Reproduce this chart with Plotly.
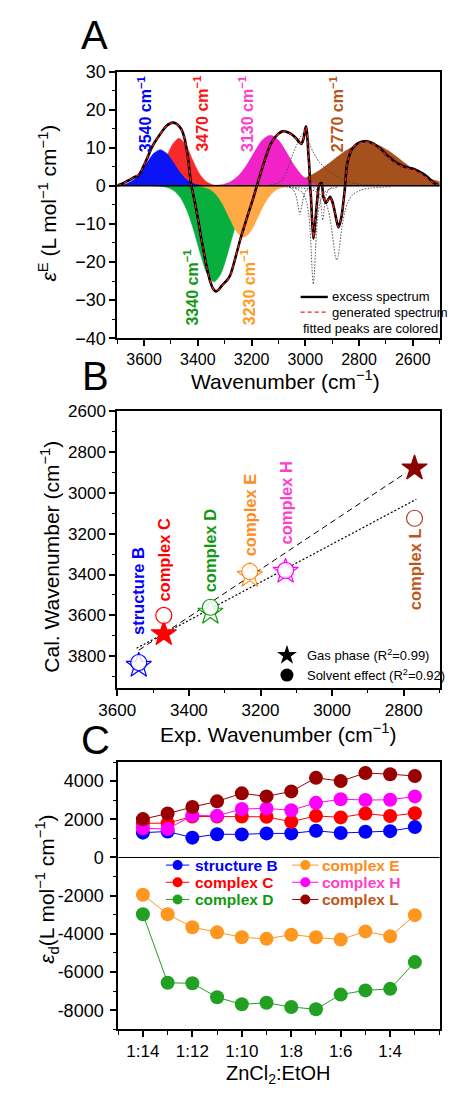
import plotly.graph_objects as go

FIG_W, FIG_H = 451, 1095
FONT = "Liberation Sans, Arial, sans-serif"


def xp(px):
    return px / FIG_W


def yp(py):
    return 1 - py / FIG_H


# ---------------- Panel A: excess spectrum (cm^-1, L mol^-1 cm^-1) ----------------
band_3540_wn = [3715, 3690, 3665, 3640, 3615, 3590, 3565, 3540, 3515, 3490, 3465, 3440, 3415, 3390, 3365]
band_3540_val = [0.03, 0.15, 0.53, 1.50, 3.36, 5.98, 8.47, 9.5, 8.47, 5.98, 3.36, 1.50, 0.53, 0.15, 0.03]

band_3470_wn = [3620, 3595, 3570, 3545, 3520, 3495, 3470, 3445, 3420, 3395, 3370, 3345, 3320]
band_3470_val = [0.06, 0.31, 1.18, 3.31, 6.92, 10.8, 12.5, 10.8, 6.92, 3.31, 1.18, 0.31, 0.06]

band_3130_wn = [3340, 3310, 3280, 3250, 3220, 3190, 3160, 3130, 3100, 3070, 3040, 3010, 2980, 2950, 2920]
band_3130_val = [0.08, 0.32, 1.01, 2.55, 5.25, 8.80, 12.0, 13.3, 12.0, 8.80, 5.25, 2.55, 1.01, 0.32, 0.08]

band_2770_wn = [3210, 3170, 3130, 3090, 3050, 3010, 2970, 2930, 2890, 2850, 2810, 2770,
                2730, 2690, 2650, 2610, 2570, 2530, 2490]
band_2770_val = [0.02, 0.06, 0.17, 0.40, 0.88, 1.74, 3.08, 4.92, 7.08, 9.18, 10.73, 11.3,
                 10.73, 9.18, 7.08, 4.92, 3.08, 1.74, 0.88]

band_3340_wn = [3565, 3540, 3515, 3490, 3465, 3440, 3415, 3390, 3365, 3340, 3315, 3290,
                3265, 3240, 3215, 3190, 3165, 3140, 3115]
band_3340_val = [-0.03, -0.12, -0.41, -1.23, -3.08, -6.57, -11.8, -18.0, -23.2, -25.2, -23.2, -18.0,
                 -11.8, -6.57, -3.08, -1.23, -0.41, -0.12, -0.03]

band_3230_wn = [3405, 3380, 3355, 3330, 3305, 3280, 3255, 3230, 3205, 3180, 3155, 3130, 3105, 3080, 3055]
band_3230_val = [-0.07, -0.29, -0.93, -2.43, -5.14, -8.79, -12.1, -13.5, -12.1, -8.79, -5.14, -2.43, -0.93, -0.29, -0.07]

# uncoloured narrow components of the fit
comp_p1_wn = [3130, 3110, 3090, 3075, 3060, 3045, 3030, 3018, 3005, 2992, 2979, 2962, 2945,
              2925, 2905, 2880, 2850, 2820, 2780, 2740, 2700, 2640, 2580, 2500]
comp_p1_val = [0.2, 0.5, 1.2, 2.8, 5.6, 8.6, 11.0, 12.8, 14.0, 12.6, 10.1, 7.8, 6.0,
               4.6, 3.5, 2.4, 1.3, 0.7, 0.3, 0.18, 0.1, 0.05, 0.03, 0.02]
comp_n1_wn = [3060, 3045, 3035, 3028, 3020, 3012, 3005, 2995, 2980]
comp_n1_val = [-0.3, -1.0, -2.5, -4.8, -7.5, -4.8, -2.5, -1.0, -0.3]
comp_n2_wn = [3060, 3030, 3010, 2995, 2987, 2982, 2978, 2974, 2970, 2966, 2962, 2958, 2953,
              2945, 2930, 2910, 2880]
comp_n2_val = [-0.38, -0.84, -1.8, -4.2, -7.6, -11.8, -16.9, -22.8, -25.8, -22.8, -16.9, -11.8, -7.6,
               -4.2, -1.8, -0.84, -0.38]
comp_n3_wn = [2970, 2955, 2948, 2943, 2939, 2935, 2931, 2927, 2922, 2915, 2900]
comp_n3_val = [-0.42, -1.2, -2.3, -4.25, -7.0, -9.0, -7.0, -4.25, -2.3, -1.2, -0.42]
comp_n4_wn = [3083, 3013, 2973, 2943, 2923, 2913, 2903, 2898, 2893, 2888, 2883, 2878, 2873,
              2868, 2863, 2853, 2843, 2823, 2793, 2753, 2683]
comp_n4_val = [-0.23, -0.54, -1.1, -2.3, -4.5, -6.8, -10.7, -13.3, -16.2, -18.5, -19.5, -18.5, -16.2,
               -13.3, -10.7, -6.8, -4.5, -2.3, -1.1, -0.54, -0.23]

excess_wn = [3700, 3680, 3667, 3650, 3638, 3621, 3610, 3598, 3585, 3574, 3560, 3545, 3530, 3517,
             3505, 3493, 3482, 3470, 3460, 3452, 3446, 3441, 3435, 3430, 3424, 3415, 3406, 3397,
             3389, 3380, 3371, 3362, 3354, 3343, 3333, 3323, 3313, 3300, 3290, 3279, 3270, 3261,
             3250, 3238, 3226, 3215, 3203, 3192, 3183, 3174, 3162, 3151, 3140, 3130, 3116, 3100,
             3084, 3070, 3055, 3043, 3032, 3022, 3014, 3006, 3000, 2997, 2993, 2989, 2985, 2982,
             2979, 2975, 2970, 2966, 2962, 2956, 2950, 2944, 2939, 2933, 2927, 2922, 2915, 2908,
             2900, 2892, 2884, 2877, 2870, 2863, 2857, 2852, 2846, 2838, 2829, 2816, 2803, 2787,
             2771, 2753, 2736, 2718, 2701, 2683, 2666, 2648, 2631, 2614, 2597, 2580, 2562, 2545,
             2527, 2515, 2504]
excess_val = [0.0, 0.6, 1.1, 1.7, 2.2, 2.8, 4.0, 5.8, 7.8, 9.7, 11.5, 13.1, 14.6, 15.7,
              16.3, 16.6, 16.4, 15.7, 14.7, 13.1, 11.4, 9.3, 6.4, 3.2, 0.0, -3.0, -6.2, -9.7,
              -13.1, -16.5, -19.9, -22.9, -25.1, -27.0, -27.7, -27.3, -26.4, -25.4, -24.7, -23.4, -21.4, -19.1,
              -16.2, -13.1, -10.4, -7.9, -5.3, -2.8, -0.6, 1.5, 4.3, 6.7, 9.0, 10.8, 12.4, 13.7,
              14.3, 14.2, 13.7, 13.1, 12.3, 11.4, 11.0, 12.5, 15.0, 15.6, 13.5, 9.0, 5.0, -0.2,
              -2.8, -8.5, -13.8, -12.0, -8.8, -4.0, -0.2, 0.6, 0.7, -2.8, -4.0, -4.5, -3.6, -2.9,
              -4.0, -6.2, -9.0, -10.9, -9.6, -7.1, -3.5, -0.2, 5.0, 7.5, 9.3, 10.5, 11.2, 11.6,
              11.7, 11.3, 10.6, 9.6, 8.4, 7.3, 6.3, 5.6, 5.0, 4.7, 4.5, 3.9, 3.2, 2.3,
              1.1, 0.5, 0.1]
generated_val = [0.0, 0.6, 1.1, 1.7, 2.3, 2.9, 4.1, 5.9, 7.9, 9.7, 11.5, 13.1, 14.6, 15.7,
                 16.3, 16.5, 16.3, 15.6, 14.6, 13.1, 11.4, 9.3, 6.4, 3.2, 0.0, -3.0, -6.2, -9.7,
                 -13.1, -16.5, -19.9, -22.9, -25.1, -27.0, -27.6, -27.3, -26.5, -25.5, -24.8, -23.5, -21.5, -19.1,
                 -16.2, -13.1, -10.4, -7.9, -5.3, -2.8, -0.6, 1.5, 4.3, 6.7, 9.0, 10.8, 12.4, 13.6,
                 14.2, 14.1, 13.6, 13.0, 12.2, 11.4, 11.0, 12.5, 15.0, 15.5, 13.5, 9.0, 5.0, -0.2,
                 -2.8, -8.5, -13.6, -12.0, -8.8, -4.0, -0.2, 0.6, 0.7, -2.8, -4.0, -4.5, -3.6, -2.9,
                 -4.0, -6.2, -9.0, -10.8, -9.6, -7.1, -3.5, -0.2, 5.0, 7.5, 9.3, 10.5, 11.1, 11.5,
                 11.6, 11.2, 10.5, 9.5, 8.3, 7.1, 6.1, 5.4, 4.8, 4.5, 4.2, 3.6, 2.9, 2.0,
                 1.0, 0.5, 0.1]

# ---------------- Panel B: calculated vs experimental wavenumbers ----------------
species = ["structure B", "complex C", "complex D", "complex E", "complex H", "complex L"]
exp_wn = [3540, 3470, 3340, 3230, 3130, 2770]
cal_gas = [3845, 3690, 3585, 3405, 3385, 2880]
cal_solvent = [3830, 3600, 3560, 3385, 3380, 3125]
gas_fit_wn = [3540, 2795]
gas_fit_cal = [3770, 2904]
solvent_fit_wn = [3546, 2765]
solvent_fit_cal = [3760, 3032]

# ---------------- Panel C: epsilon_d vs ZnCl2:EtOH ratio ----------------
ratios = ["1:14", "1:13", "1:12", "1:11", "1:10", "1:9", "1:8", "1:7", "1:6", "1:5", "1:4", "1:3"]
eps_struct_B = [1300, 1360, 1040, 1220, 1210, 1260, 1260, 1400, 1280, 1350, 1380, 1590]
eps_complex_C = [1790, 1800, 2150, 2150, 2150, 2130, 1870, 2180, 2100, 2300, 2170, 2320]
eps_complex_D = [-2970, -6560, -6590, -7320, -7690, -7610, -7830, -7950, -7180, -6960, -6880, -5480]
eps_complex_E = [-1950, -2970, -3650, -3920, -4180, -4260, -4040, -4180, -4300, -3870, -4130, -3020]
eps_complex_H = [1530, 1490, 2200, 2180, 2540, 2570, 2470, 2860, 3050, 3010, 3020, 3200]
eps_complex_L = [2010, 2300, 2640, 2940, 3360, 3200, 3460, 4170, 4000, 4425, 4360, 4270]
eps_ticks = [-8000, -6000, -4000, -2000, 0, 2000, 4000]

# ---------------- styling ----------------
BAND_FILLS = [
    (band_2770_wn, band_2770_val, "#A4511D"),
    (band_3130_wn, band_3130_val, "#F022C8"),
    (band_3470_wn, band_3470_val, "#F62A2A"),
    (band_3540_wn, band_3540_val, "#0A14F5"),
    (band_3340_wn, band_3340_val, "#08AE3E"),
    (band_3230_wn, band_3230_val, "#FFAA44"),
]
COMPONENTS = [
    (comp_p1_wn, comp_p1_val), (comp_n1_wn, comp_n1_val), (comp_n2_wn, comp_n2_val),
    (comp_n3_wn, comp_n3_val), (comp_n4_wn, comp_n4_val),
]
B_MARK = ["#0000FF", "#FF0000", "#119911", "#FF8C1A", "#FF00FF", "#8B0000"]
B_CIRCLE = ["#0000FF", "#FF0000", "#119911", "#FF8C1A", "#FF00FF", "#B0402A"]
B_STAR_FILL = ["white", "#FF0000", "white", "white", "white", "#8B0000"]
B_TEXT = ["#0000FF", "#FF0000", "#119911", "#FF8C1A", "#FF3ECC", "#C0561A"]
C_SERIES = [
    ("structure B", eps_struct_B, "#0000FF", "#0000FF"),
    ("complex C", eps_complex_C, "#FF0000", "#FF0000"),
    ("complex D", eps_complex_D, "#22A022", "#119911"),
    ("complex E", eps_complex_E, "#FF9620", "#FF8C1A"),
    ("complex H", eps_complex_H, "#FF00FF", "#FF3ECC"),
    ("complex L", eps_complex_L, "#990000", "#C0561A"),
]

fig = go.Figure()

# Panel A traces
for wn, val, col in BAND_FILLS:
    fig.add_trace(go.Scatter(x=wn, y=val, mode="lines", fill="tozeroy", fillcolor=col,
                             line=dict(color=col, width=0.5, shape="spline", smoothing=0.8),
                             xaxis="x", yaxis="y", showlegend=False, hoverinfo="skip"))
for wn, val in COMPONENTS:
    fig.add_trace(go.Scatter(x=wn, y=val, mode="lines",
                             line=dict(color="#444444", width=0.9, dash="1.5px,1.5px", shape="spline", smoothing=0.6),
                             xaxis="x", yaxis="y", showlegend=False, hoverinfo="skip"))
fig.add_trace(go.Scatter(x=excess_wn, y=excess_val, mode="lines", name="excess spectrum",
                         line=dict(color="black", width=2.6, shape="spline", smoothing=0.6),
                         xaxis="x", yaxis="y", showlegend=False))
fig.add_trace(go.Scatter(x=excess_wn, y=generated_val, mode="lines", name="generated spectrum",
                         line=dict(color="#FF1A1A", width=1.2, dash="4px,3px", shape="spline", smoothing=0.6),
                         xaxis="x", yaxis="y", showlegend=False))

# Panel B traces
fig.add_trace(go.Scatter(x=gas_fit_wn, y=gas_fit_cal, mode="lines",
                         line=dict(color="black", width=1, dash="6px,4px"),
                         xaxis="x2", yaxis="y2", showlegend=False, hoverinfo="skip"))
fig.add_trace(go.Scatter(x=solvent_fit_wn, y=solvent_fit_cal, mode="lines",
                         line=dict(color="black", width=1.2, dash="2px,2px"),
                         xaxis="x2", yaxis="y2", showlegend=False, hoverinfo="skip"))
fig.add_trace(go.Scatter(x=exp_wn, y=cal_gas, mode="markers", text=species,
                         marker=dict(symbol="star", size=19, color=B_STAR_FILL,
                                     line=dict(color=B_MARK, width=1.2)),
                         xaxis="x2", yaxis="y2", showlegend=False))
fig.add_trace(go.Scatter(x=exp_wn, y=cal_solvent, mode="markers", text=species,
                         marker=dict(symbol="circle", size=16, color="rgba(255,255,255,0.85)",
                                     line=dict(color=B_CIRCLE, width=1.2)),
                         xaxis="x2", yaxis="y2", showlegend=False))
fig.add_trace(go.Scatter(x=[None], y=[None], mode="markers", name="Gas phase (R<sup>2</sup>=0.99)",
                         marker=dict(symbol="star", size=15, color="black"),
                         xaxis="x2", yaxis="y2", showlegend=True))
fig.add_trace(go.Scatter(x=[None], y=[None], mode="markers", name="Solvent effect (R<sup>2</sup>=0.92)",
                         marker=dict(symbol="circle", size=13, color="black"),
                         xaxis="x2", yaxis="y2", showlegend=True))

# Panel C traces
ratio_pos = list(range(len(ratios)))
for name, vals, col, _ in C_SERIES:
    fig.add_trace(go.Scatter(x=ratio_pos, y=vals, mode="lines+markers", name=name,
                             text=ratios, line=dict(color=col, width=1),
                             marker=dict(color=col, size=14),
                             xaxis="x3", yaxis="y3", showlegend=False))


def axis_style(tick_size, **extra):
    style = dict(showline=True, linecolor="black", linewidth=1.8, mirror=True,
                 ticks="outside", ticklen=6, tickwidth=1.5, tickcolor="black",
                 showgrid=False, zeroline=False,
                 tickfont=dict(family=FONT, size=tick_size, color="black"))
    style.update(extra)
    return style


def minor_ticks(step, **extra):
    m = dict(dtick=step, ticklen=3.5, tickwidth=1.2, ticks="outside", tickcolor="black")
    m.update(extra)
    return m


X_DOM = [xp(105), xp(449.5)]
fig.update_layout(
    width=FIG_W, height=FIG_H, margin=dict(l=0, r=0, t=0, b=0),
    paper_bgcolor="white", plot_bgcolor="white",
    font=dict(family=FONT, color="black"),
    xaxis=dict(domain=X_DOM, anchor="y", range=[3700, 2500], dtick=200, tick0=0,
               minor=minor_ticks(100), **axis_style(16)),
    yaxis=dict(domain=[yp(334.3), yp(62.7)], anchor="x", range=[-40, 30], dtick=10, tick0=0,
               minor=minor_ticks(5), **axis_style(18)),
    xaxis2=dict(domain=X_DOM, anchor="y2", range=[3600, 2700], dtick=200, tick0=0,
                minor=minor_ticks(100), **axis_style(17)),
    yaxis2=dict(domain=[yp(690.7), yp(408.3)], anchor="x2", range=[3955, 2600], dtick=200, tick0=0,
                minor=minor_ticks(100), **axis_style(17)),
    xaxis3=dict(domain=[xp(106), xp(449.5)], anchor="y3", range=[-1, 12],
                tickmode="array", tickvals=ratio_pos[::2], ticktext=ratios[::2],
                minor=minor_ticks(1, tick0=0), **axis_style(17, ticklabelstandoff=-1)),
    yaxis3=dict(domain=[yp(1038.3), yp(766)], anchor="x3", range=[-9000, 5000],
                tickmode="array", tickvals=eps_ticks, ticktext=[str(v) for v in eps_ticks],
                minor=minor_ticks(1000, tick0=0), **axis_style(18, ticklabelstandoff=3)),
    legend=dict(x=xp(265), y=yp(642), xanchor="left", yanchor="top",
                bgcolor="rgba(0,0,0,0)", font=dict(family=FONT, size=13, color="black"),
                itemsizing="trace"),
)

# zero lines
fig.add_shape(type="line", xref="x domain", yref="y", x0=0, x1=1, y0=0, y1=0,
              line=dict(color="black", width=1.6), layer="above")
fig.add_shape(type="line", xref="x3 domain", yref="y3", x0=0, x1=1, y0=0, y1=0,
              line=dict(color="black", width=1), layer="below")

ann = []


def text_at(x, y, s, size, color="black", angle=0, xanchor="center", bold=False,
            xref="paper", yref="paper", yanchor="middle"):
    if bold:
        s = "<b>" + s + "</b>"
    ann.append(dict(x=x, y=y, xref=xref, yref=yref, text=s, showarrow=False, textangle=angle,
                    xanchor=xanchor, yanchor=yanchor, borderpad=0,
                    font=dict(family=FONT, size=size, color=color)))


# panel letters
text_at(xp(80.5), yp(25), "A", 40)
text_at(xp(82), yp(373), "B", 40)
text_at(xp(81.5), yp(720), "C", 40, yanchor="top")

# axis titles
SUP = "<sup>−1</sup>"
text_at(xp(31), yp(197), "<i>ε</i><sup>E</sup> (L mol" + SUP + " cm" + SUP + ")", 21, angle=-90)
text_at(xp(285), yp(377), "Wavenumber (cm" + SUP + ")", 21)
text_at(xp(33), yp(557), "Cal. Wavenumber (cm" + SUP + ")", 21, angle=-90)
text_at(xp(277), yp(736), "Exp. Wavenumber (cm" + SUP + ")", 21)
text_at(xp(30), yp(896), "<i>ε</i><sub>d</sub>(L mol" + SUP + " cm" + SUP + ")", 21, angle=-90)
text_at(xp(277), yp(1084), "ZnCl<sub>2</sub>:EtOH", 20)

# panel A band labels (data coordinates)
band_labels = [
    ("3540", 3599, 18.9, "#0000FF"), ("3470", 3389, 18.9, "#FF1010"),
    ("3130", 3220, 18.9, "#FF3ECC"), ("2770", 2884, 18.9, "#B8561A"),
    ("3340", 3424, -26.6, "#119911"), ("3230", 3213, -26.6, "#FF9A22"),
]
for lab, x, y, col in band_labels:
    text_at(x, y, lab + " cm" + SUP, 16, color=col, angle=-90, bold=True, xref="x", yref="y")

# panel A key
fig.add_shape(type="line", xref="paper", yref="paper", x0=xp(301), x1=xp(330), y0=yp(292.3), y1=yp(292.3),
              line=dict(color="black", width=2.4))
fig.add_shape(type="line", xref="paper", yref="paper", x0=xp(301), x1=xp(330), y0=yp(307.7), y1=yp(307.7),
              line=dict(color="#FF1A1A", width=1.2, dash="4px,3px"))
text_at(xp(333), yp(292.3), "excess spectrum", 13, xanchor="left")
text_at(xp(333), yp(307.7), "generated spectrum", 13, xanchor="left")
text_at(xp(302), yp(324), "fitted peaks are colored", 13, xanchor="left")

# panel B species labels
label_mid = [3482, 3328, 3280, 3107, 3050, 3376]
for name, x, y, col in zip(species, exp_wn, label_mid, B_TEXT):
    text_at(x, y, name, 16.5, color=col, angle=-90, bold=True, xref="x2", yref="y2")

# panel C key: two columns, three rows
key_cols = [(157, 182, 187), (292, 320, 323)]
key_rows = [871, 888.5, 906]
key_order = [0, 3, 1, 4, 2, 5]
for k, idx in enumerate(key_order):
    name, _, col, tcol = C_SERIES[idx]
    lx0, lx1, tx = key_cols[k % 2]
    ry = key_rows[k // 2]
    fig.add_shape(type="line", xref="paper", yref="paper", x0=xp(lx0), x1=xp(lx1),
                  y0=yp(ry), y1=yp(ry), line=dict(color=col, width=1))
    fig.add_shape(type="circle", xref="paper", yref="paper", xsizemode="pixel", ysizemode="pixel",
                  xanchor=xp((lx0 + lx1) / 2), yanchor=yp(ry), x0=-5, x1=5, y0=-5, y1=5,
                  fillcolor=col, line=dict(color=col, width=0))
    text_at(xp(tx), yp(ry), name, 15.5, color=tcol, xanchor="left", bold=True)

fig.update_layout(annotations=ann)
fig.write_html("out.html")
